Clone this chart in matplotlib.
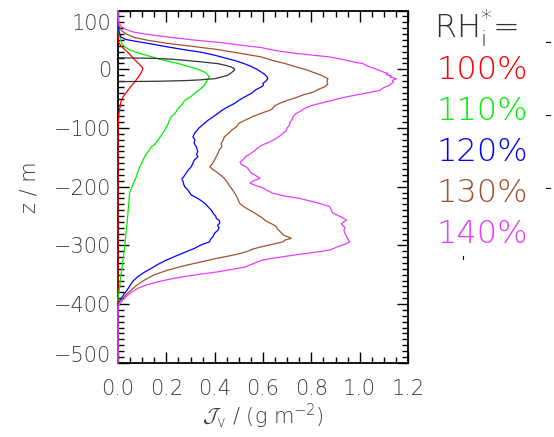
import matplotlib
matplotlib.use("Agg")
import matplotlib.pyplot as plt
import matplotlib.transforms as mtransforms
from matplotlib.lines import Line2D
from matplotlib.ticker import MultipleLocator

plt.rcParams["mathtext.fontset"] = "custom"
plt.rcParams["mathtext.rm"] = "DejaVu Sans:weight=light"
plt.rcParams["mathtext.cal"] = "cmsy10"

# vertical profiles: (z [m], J_v [g m^-2])
prof_100 = [(100, 0), (70, 0), (50, 0.002), (45, 0.004), (40, 0.012), (33, 0.030), (25, 0.050),
            (15, 0.072), (8, 0.090), (2, 0.103), (-4, 0.098), (-10, 0.090), (-14, 0.083),
            (-22, 0.068), (-31, 0.050), (-40, 0.033), (-48, 0.020), (-56, 0.012), (-65, 0.008),
            (-75, 0.004), (-85, 0.002), (-100, 0), (-300, 0), (-500, 0)]

prof_110 = [(100, 0), (80, 0), (70, 0.001), (62, 0.004), (55, 0.008), (48, 0.012), (44, 0.016),
            (38, 0.028), (33, 0.05), (28, 0.083), (23, 0.125), (18, 0.165), (14, 0.205),
            (10, 0.248), (5, 0.29), (0, 0.331), (-5, 0.36), (-10, 0.372), (-13, 0.379),
            (-17, 0.37), (-22, 0.365), (-27, 0.358), (-34, 0.34), (-41, 0.317), (-47, 0.30),
            (-53, 0.276), (-60, 0.265), (-67, 0.248), (-74, 0.238), (-81, 0.22), (-88, 0.212),
            (-95, 0.205), (-104, 0.193), (-112, 0.18), (-121, 0.165), (-127, 0.155),
            (-132, 0.138), (-140, 0.125), (-149, 0.11), (-158, 0.10), (-166, 0.09),
            (-175, 0.082), (-183, 0.076), (-193, 0.065), (-203, 0.055), (-211, 0.048),
            (-220, 0.046), (-232, 0.044), (-245, 0.041), (-260, 0.038), (-274, 0.034),
            (-288, 0.031), (-302, 0.028), (-320, 0.022), (-336, 0.017), (-352, 0.012),
            (-370, 0.007), (-380, 0.004), (-388, 0), (-500, 0)]

prof_120 = [(100, 0), (80, 0), (70, 0.002), (62, 0.006), (55, 0.012), (51, 0.03), (48, 0.069),
            (43, 0.14), (38, 0.207), (33, 0.28), (29, 0.345), (24, 0.40), (19, 0.445),
            (15, 0.483), (10, 0.52), (5, 0.55), (0, 0.575), (-4, 0.59), (-8, 0.605),
            (-12, 0.615), (-16, 0.62), (-20, 0.612), (-24, 0.60), (-27, 0.602), (-30, 0.593),
            (-35, 0.57), (-41, 0.552), (-48, 0.52), (-53, 0.50), (-58, 0.483), (-65, 0.45),
            (-70, 0.43), (-75, 0.414), (-82, 0.39), (-87, 0.372), (-92, 0.358), (-100, 0.335),
            (-109, 0.317), (-115, 0.31), (-120, 0.318), (-126, 0.315), (-132, 0.324),
            (-140, 0.33), (-145, 0.325), (-149, 0.331), (-155, 0.315), (-160, 0.31),
            (-166, 0.303), (-172, 0.29), (-178, 0.28), (-183, 0.272), (-187, 0.264),
            (-192, 0.27), (-196, 0.272), (-200, 0.276), (-206, 0.29), (-210, 0.296),
            (-214, 0.303), (-220, 0.33), (-224, 0.345), (-228, 0.358), (-234, 0.372),
            (-240, 0.386), (-246, 0.395), (-250, 0.404), (-254, 0.407), (-258, 0.42),
            (-262, 0.421), (-266, 0.412), (-270, 0.418), (-274, 0.414), (-279, 0.40),
            (-283, 0.395), (-285, 0.393), (-290, 0.382), (-294, 0.379), (-298, 0.35),
            (-302, 0.33), (-305, 0.317), (-312, 0.275), (-319, 0.234), (-326, 0.195),
            (-333, 0.162), (-339, 0.138), (-346, 0.108), (-353, 0.083), (-360, 0.064),
            (-368, 0.05), (-376, 0.038), (-383, 0.025), (-390, 0.014), (-395, 0.006),
            (-398, 0), (-500, 0)]

prof_130 = [(100, 0), (85, 0), (75, 0.003), (66, 0.014), (60, 0.035), (54, 0.069), (49, 0.13),
            (44, 0.207), (39, 0.31), (33.5, 0.414), (27, 0.51), (21, 0.593), (15, 0.64),
            (10, 0.69), (4, 0.738), (-1, 0.78), (-5, 0.807), (-10, 0.84), (-16, 0.869),
            (-20, 0.865), (-25, 0.868), (-30, 0.855), (-34, 0.83), (-39, 0.807), (-43, 0.77),
            (-48, 0.738), (-53, 0.70), (-58, 0.669), (-63, 0.645), (-67, 0.64), (-70, 0.627),
            (-73, 0.605), (-75, 0.593), (-80, 0.56), (-84, 0.54), (-87, 0.524), (-92, 0.50),
            (-98, 0.49), (-104, 0.469), (-110, 0.455), (-115, 0.44), (-120, 0.436),
            (-126, 0.427), (-132, 0.43), (-138, 0.418), (-143, 0.414), (-150, 0.405),
            (-156, 0.398), (-161, 0.39), (-166, 0.38), (-170, 0.39), (-174, 0.405),
            (-177, 0.414), (-182, 0.43), (-186, 0.44), (-190, 0.448), (-194, 0.455),
            (-198, 0.46), (-203, 0.47), (-208, 0.478), (-211, 0.483), (-216, 0.49),
            (-222, 0.497), (-228, 0.503), (-234, 0.52), (-240, 0.545), (-245, 0.566),
            (-250, 0.585), (-254, 0.60), (-258, 0.61), (-263, 0.635), (-268, 0.655),
            (-272, 0.66), (-276, 0.67), (-282, 0.683), (-285, 0.70), (-288, 0.717),
            (-291, 0.69), (-294, 0.683), (-298, 0.64), (-302, 0.597), (-306, 0.56),
            (-311, 0.53), (-316, 0.483), (-322, 0.41), (-328, 0.345), (-335, 0.27),
            (-342, 0.207), (-350, 0.15), (-359, 0.11), (-367, 0.08), (-376, 0.055),
            (-383, 0.036), (-390, 0.02), (-395, 0.008), (-400, 0), (-500, 0)]

prof_140 = [(100, 0), (88, 0), (78, 0.005), (72, 0.015), (69, 0.028), (66, 0.045), (63, 0.069),
            (59, 0.13), (55, 0.207), (50, 0.31), (46, 0.414), (41, 0.51), (37, 0.593),
            (32, 0.65), (27, 0.738), (21, 0.876), (16, 0.94), (12, 0.98), (9.7, 1.014),
            (6, 1.03), (3, 1.05), (-2, 1.083), (-5, 1.10), (-7, 1.117), (-9, 1.11),
            (-11, 1.13), (-13, 1.125), (-16, 1.152), (-19, 1.135), (-22, 1.14), (-25, 1.128),
            (-27, 1.124), (-31, 1.10), (-36, 1.083), (-41, 1.02), (-47, 0.945), (-54, 0.875),
            (-61, 0.807), (-66, 0.775), (-71, 0.755), (-76, 0.735), (-81, 0.724), (-86, 0.72),
            (-90, 0.712), (-95, 0.71), (-100, 0.70), (-105, 0.695), (-109, 0.683),
            (-115, 0.665), (-121, 0.641), (-125, 0.62), (-129, 0.597), (-135, 0.575),
            (-139, 0.565), (-143, 0.552), (-148, 0.53), (-153, 0.52), (-158, 0.505),
            (-162, 0.51), (-166, 0.53), (-170, 0.54), (-174, 0.545), (-177, 0.552),
            (-181, 0.57), (-186, 0.588), (-190, 0.56), (-194, 0.546), (-198, 0.57),
            (-202, 0.60), (-206, 0.615), (-211, 0.64), (-216, 0.69), (-220, 0.753),
            (-223, 0.78), (-228, 0.83), (-234, 0.876), (-238, 0.88), (-242, 0.885),
            (-245, 0.89), (-249, 0.91), (-253, 0.93), (-257, 0.945), (-260, 0.935),
            (-263, 0.924), (-266, 0.93), (-270, 0.94), (-274, 0.935), (-279, 0.938),
            (-284, 0.945), (-289, 0.95), (-294, 0.959), (-298, 0.94), (-302, 0.91),
            (-308, 0.876), (-312, 0.81), (-316, 0.738), (-320, 0.67), (-325, 0.597),
            (-331, 0.56), (-337, 0.524), (-341, 0.47), (-345, 0.414), (-349, 0.34),
            (-353, 0.276), (-357, 0.22), (-362, 0.165), (-367, 0.12), (-373, 0.083),
            (-380, 0.055), (-387, 0.034), (-394, 0.018), (-400, 0.007), (-405, 0), (-500, 0)]

# initial layer
prof_init = [(19.5, 0), (19.2, 0.08), (18.5, 0.16), (17.2, 0.22), (15.3, 0.276), (12.4, 0.35),
             (9.6, 0.414), (6.5, 0.447), (4.0, 0.468), (1.5, 0.48), (-0.5, 0.483), (-3, 0.478),
             (-6, 0.468), (-10, 0.455), (-13, 0.43), (-16, 0.40), (-18, 0.34), (-19.3, 0.276),
             (-20.2, 0.18), (-20.7, 0.09), (-21, 0)]

rh_labels = ["100%", "110%", "120%", "130%", "140%"]
colors = ["#ff0000", "#00f000", "#0000ff", "#a0522d", "#e53cff"]
profiles = [prof_100, prof_110, prof_120, prof_130, prof_140]

grey = "#3c3c3c"
fig = plt.figure(figsize=(5.54, 4.37), dpi=100)
ax = fig.add_axes([118 / 554, 1 - 362.8 / 437, 290 / 554, 352.2 / 437])

for prof, c in zip(profiles, colors):
    z, x = zip(*prof)
    ax.plot(x, z, color=c, lw=0.9, clip_on=False, zorder=3)
z, x = zip(*prof_init)
ax.plot(x, z, color="#333333", lw=0.9, zorder=4)

ax.set_xlim(0, 1.2)
ax.set_ylim(-500, 100)
ax.xaxis.set_major_locator(MultipleLocator(0.2))
ax.xaxis.set_minor_locator(MultipleLocator(0.05))
ax.yaxis.set_major_locator(MultipleLocator(100))
ax.yaxis.set_minor_locator(MultipleLocator(10))
ax.xaxis.set_major_formatter(lambda v, p: f"{v:.1f}")
ax.tick_params(which="both", direction="in", top=True, right=True, colors="black",
               labelcolor=grey, labelsize=15, width=1.0)
ax.tick_params(which="major", length=8)
ax.tick_params(which="minor", length=4)
ax.tick_params(axis="x", pad=12)
ax.tick_params(axis="y", pad=5)
for s in ax.spines.values():
    s.set_linewidth(1.3)

# keep the end labels inside the frame
fig.canvas.draw()
for lab in ax.get_xticklabels():
    lab.set_fontweight("light")
for lab in ax.get_yticklabels():
    lab.set_fontweight("light")
    if lab.get_text() == "100":
        lab.set_transform(lab.get_transform() + mtransforms.ScaledTranslation(0, -8 / 72, fig.dpi_scale_trans))
    if lab.get_text() in ("\u2212500", "-500"):
        lab.set_transform(lab.get_transform() + mtransforms.ScaledTranslation(0, 6 / 72, fig.dpi_scale_trans))

ax.set_ylabel("z / m", fontsize=15, color=grey, labelpad=10, fontweight="light")
ax.set_xlabel(r"$\mathcal{J}_{\rm v}$ / (g m$^{-2}$)", fontsize=15, color=grey, labelpad=2,
              fontweight="light")

fig.text(434 / 554, 1 - 28 / 437, r"RH$_{\rm i}^{*}$=", fontsize=23, color="#333333",
         va="center", ha="left", fontweight="light")
for i, (lab, c) in enumerate(zip(rh_labels, colors)):
    fig.text(436 / 554, 1 - (70 + 41 * i) / 437, lab, fontsize=23, color=c,
             va="center", ha="left", fontweight="light")

# small marks at the right edge
for px, py in [(548, 42), (548, 115), (548, 188)]:
    fig.add_artist(Line2D([(px - 2) / 554, (px + 2) / 554], [1 - py / 437] * 2,
                          color="black", lw=0.8))
fig.add_artist(Line2D([463 / 554] * 2, [1 - 256 / 437, 1 - 259 / 437], color="black", lw=0.8))

fig.savefig("out.png", dpi=100)
